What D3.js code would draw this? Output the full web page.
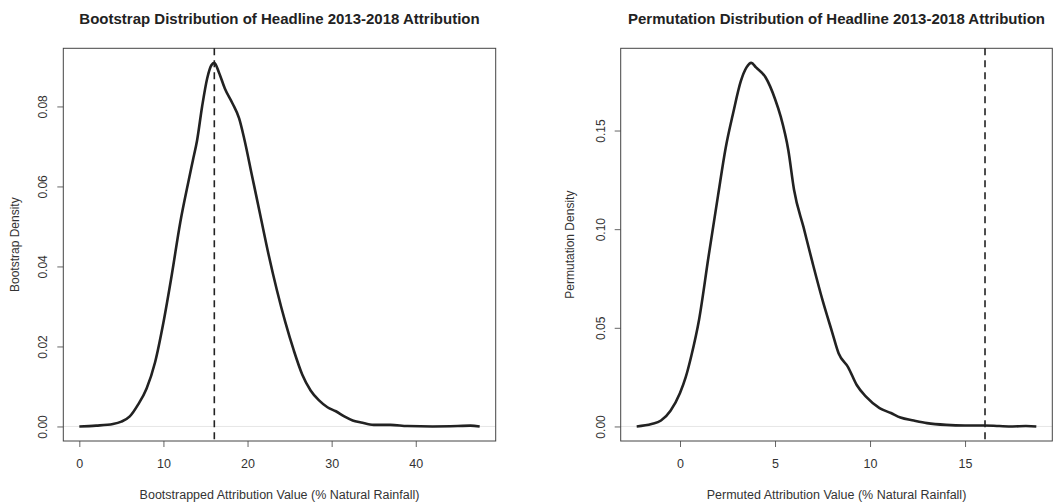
<!DOCTYPE html>
<html>
<head>
<meta charset="utf-8">
<script src="https://cdn.jsdelivr.net/npm/d3@7"></script>
<style>
  body { margin: 0; background: #fff; }
  svg { font-family: "Liberation Sans", Arial, Helvetica, sans-serif; }
</style>
</head>
<body>
<svg id="chart" width="1060" height="503"></svg>
<script>
// bootstrap density
const bootX = [0, 2, 4, 5, 6, 7, 8, 9, 10, 11, 12, 13, 13.5, 14, 14.6, 15.2, 15.7, 16.05, 16.6, 17.3, 18.2, 19, 19.6,
  20.5, 21.5, 22.5, 23.5, 24.5, 25.5, 26.5, 27.5, 28.5, 29.5, 30.5, 31.5, 32.5, 33.5, 35, 37, 39, 42, 45, 46.5, 47.6];
const bootDensity = [0, 0.0002, 0.0006, 0.0012, 0.0025, 0.0055, 0.0095, 0.016, 0.026, 0.038, 0.051, 0.0615, 0.0665,
  0.0715, 0.080, 0.087, 0.0903, 0.0909, 0.0885, 0.0845, 0.0808, 0.077, 0.072, 0.063, 0.053, 0.043, 0.034, 0.026,
  0.019, 0.013, 0.009, 0.0065, 0.0048, 0.0038, 0.0025, 0.0015, 0.0010, 0.0004, 0.0004, 0.0001, 0.0, 0.0001, 0.0002, 0.0];

// permutation density
const permX = [-2.28, -1.5, -1.0, -0.5, 0, 0.3, 0.6, 1.0, 1.5, 2.0, 2.4, 2.8, 3.2, 3.5, 3.75, 4.0, 4.5, 5.0, 5.3,
  5.7, 6.0, 6.5, 7.0, 7.5, 8.0, 8.35, 8.85, 9.3, 9.8, 10.5, 11.1, 11.6, 12.3, 13.0, 14.0, 15.0, 16.0, 16.8, 17.5,
  18.2, 18.75];
const permDensity = [0, 0.0012, 0.003, 0.008, 0.017, 0.025, 0.036, 0.054, 0.086, 0.117, 0.141, 0.159, 0.175, 0.182,
  0.1843, 0.182, 0.177, 0.166, 0.157, 0.140, 0.120, 0.101, 0.082, 0.064, 0.048, 0.037, 0.030, 0.021, 0.015, 0.0093,
  0.0068, 0.0045, 0.003, 0.0017, 0.0008, 0.0005, 0.0005, 0.0002, 0.0, 0.0002, 0.0];

const headline = 16.05; // observed attribution value (dashed line)

const bootTicksX = [0, 10, 20, 30, 40];
const bootTicksY = [0, 0.02, 0.04, 0.06, 0.08];
const permTicksX = [0, 5, 10, 15];
const permTicksY = [0, 0.05, 0.10, 0.15];

const svg = d3.select("#chart");

// R style: extend data range by 4% on each side
function rRange(vals) {
  const lo = d3.min(vals), hi = d3.max(vals), pad = (hi - lo) * 0.04;
  return [lo - pad, hi + pad];
}

function drawPanel(p) {
  const x = d3.scaleLinear().domain(rRange(p.xs)).range([p.left, p.right]);
  const y = d3.scaleLinear().domain(rRange(p.ys)).range([p.bottom, p.top]);
  const g = svg.append("g");

  // title
  g.append("text")
    .attr("x", (p.left + p.right) / 2).attr("y", 24)
    .attr("text-anchor", "middle")
    .attr("font-size", 15).attr("font-weight", "bold").attr("fill", "#222")
    .text(p.title);

  // faint zero line
  g.append("line")
    .attr("x1", p.left).attr("x2", p.right)
    .attr("y1", y(0)).attr("y2", y(0))
    .attr("stroke", "#e6e6e6").attr("stroke-width", 1);

  // x axis
  const xa = g.append("g").attr("transform", "translate(0," + p.bottom + ")")
    .call(d3.axisBottom(x).tickValues(p.ticksX).tickSize(6).tickPadding(12).tickFormat(d3.format("d")));
  xa.select(".domain").remove();
  xa.selectAll(".tick line").attr("stroke", "#666");
  xa.selectAll("text").attr("font-size", 12.5).attr("fill", "#333").attr("font-family", null);

  // y axis (labels parallel to axis)
  const ya = g.append("g").attr("transform", "translate(" + p.left + ",0)")
    .call(d3.axisLeft(y).tickValues(p.ticksY).tickSize(6).tickFormat(d3.format(".2f")));
  ya.select(".domain").remove();
  ya.selectAll(".tick line").attr("stroke", "#666");
  ya.selectAll("text")
    .attr("font-size", 12).attr("fill", "#333").attr("font-family", null)
    .attr("x", null).attr("dy", null)
    .attr("text-anchor", "middle")
    .attr("transform", "translate(" + (p.labelX - p.left) + ",0) rotate(-90)");

  // box
  g.append("rect")
    .attr("x", p.left).attr("y", p.top)
    .attr("width", p.right - p.left).attr("height", p.bottom - p.top)
    .attr("fill", "none").attr("stroke", "#444").attr("stroke-width", 1);

  // axis titles
  g.append("text")
    .attr("x", (p.left + p.right) / 2).attr("y", 499)
    .attr("text-anchor", "middle").attr("font-size", 12.5).attr("fill", "#333")
    .text(p.xTitle);
  g.append("text")
    .attr("transform", "translate(" + p.yTitleX + "," + (p.top + p.bottom) / 2 + ") rotate(-90)")
    .attr("text-anchor", "middle").attr("font-size", 12).attr("fill", "#333")
    .text(p.yTitle);

  // density curve
  const pts = p.xs.map((v, i) => [v, p.ys[i]]);
  g.append("path")
    .datum(pts)
    .attr("fill", "none").attr("stroke", "#222").attr("stroke-width", 2.6)
    .attr("stroke-linejoin", "round")
    .attr("d", d3.line().x(d => x(d[0])).y(d => y(d[1])).curve(d3.curveMonotoneX));

  // headline value
  g.append("line")
    .attr("x1", x(headline)).attr("x2", x(headline))
    .attr("y1", p.top).attr("y2", p.bottom)
    .attr("stroke", "#222").attr("stroke-width", 1.6)
    .attr("stroke-dasharray", "7,5");
}

drawPanel({
  xs: bootX, ys: bootDensity, ticksX: bootTicksX, ticksY: bootTicksY,
  left: 63.3, right: 495.7, top: 48.3, bottom: 441,
  labelX: 46.5, yTitleX: 18.5,
  title: "Bootstrap Distribution of Headline 2013-2018 Attribution",
  xTitle: "Bootstrapped Attribution Value (% Natural Rainfall)",
  yTitle: "Bootstrap Density"
});

drawPanel({
  xs: permX, ys: permDensity, ticksX: permTicksX, ticksY: permTicksY,
  left: 620.7, right: 1052.3, top: 48.3, bottom: 441,
  labelX: 605, yTitleX: 573.5,
  title: "Permutation Distribution of Headline 2013-2018 Attribution",
  xTitle: "Permuted Attribution Value (% Natural Rainfall)",
  yTitle: "Permutation Density"
});
</script>
</body>
</html>
